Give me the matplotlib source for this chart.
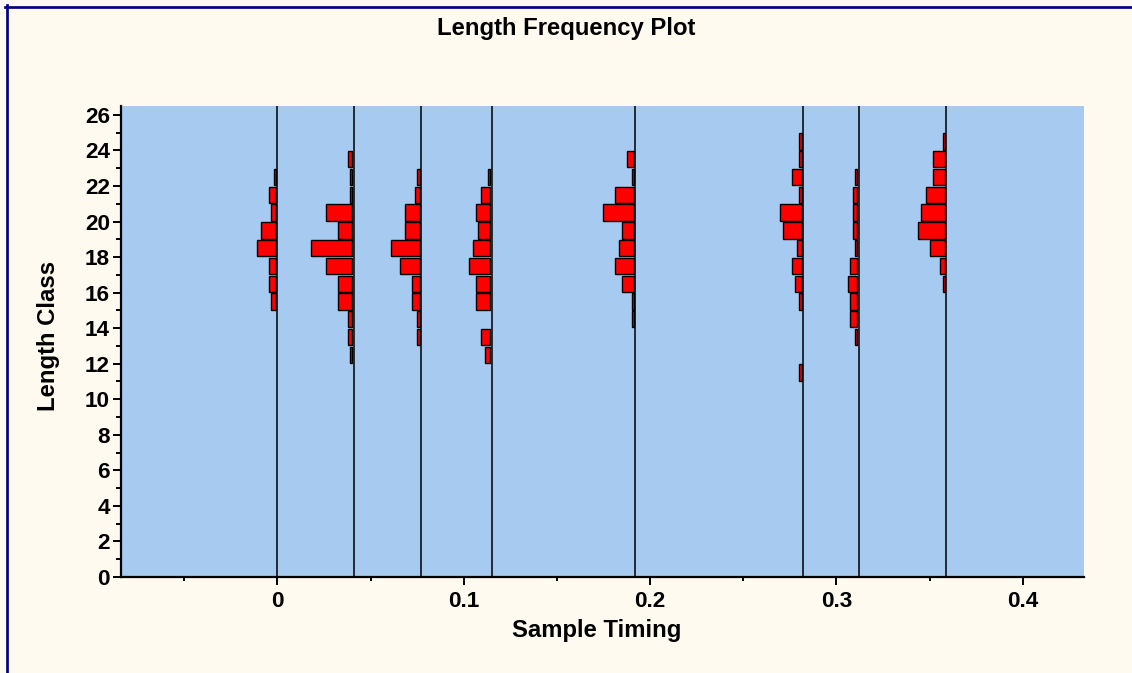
import matplotlib
matplotlib.use("Agg")
import matplotlib.pyplot as plt
from matplotlib.lines import Line2D
from matplotlib.ticker import MultipleLocator, FuncFormatter

# ---- data ----
sample_times = [0.0, 0.0410, 0.0771, 0.1150, 0.1921, 0.2822, 0.3120, 0.3590]
# length classes (bottom edge of each 1-unit bin) and counts per sample
classes_s1 = [15, 16, 17, 18, 19, 20, 21, 22]
counts_s1 = [2, 3, 3, 8, 6, 2, 3, 1]
classes_s2 = [12, 13, 14, 15, 16, 17, 18, 19, 20, 21, 22, 23]
counts_s2 = [1, 2, 2, 6, 6, 11, 17, 6, 11, 1, 1, 2]
classes_s3 = [13, 14, 15, 16, 17, 18, 19, 20, 21, 22]
counts_s3 = [1, 1, 3, 3, 8, 12, 6, 6, 2, 1]
classes_s4 = [12, 13, 15, 16, 17, 18, 19, 20, 21, 22]
counts_s4 = [2, 4, 6, 6, 9, 7, 5, 6, 4, 1]
classes_s5 = [14, 15, 16, 17, 18, 19, 20, 21, 22, 23]
counts_s5 = [1, 1, 5, 8, 6, 5, 13, 8, 1, 3]
classes_s6 = [11, 15, 16, 17, 18, 19, 20, 21, 22, 23, 24]
counts_s6 = [1, 1, 3, 4, 2, 8, 9, 1, 4, 1, 1]
classes_s7 = [13, 14, 15, 16, 17, 18, 19, 20, 21, 22]
counts_s7 = [1, 3, 3, 4, 3, 1, 2, 2, 2, 1]
classes_s8 = [16, 17, 18, 19, 20, 21, 22, 23, 24]
counts_s8 = [1, 2, 6, 11, 10, 8, 5, 5, 1]

all_classes = [classes_s1, classes_s2, classes_s3, classes_s4,
               classes_s5, classes_s6, classes_s7, classes_s8]
all_counts = [counts_s1, counts_s2, counts_s3, counts_s4,
              counts_s5, counts_s6, counts_s7, counts_s8]

x_ticks = [0, 0.1, 0.2, 0.3, 0.4]
y_ticks = list(range(0, 27, 2))

# ---- style ----
W, H = 1132, 673
bg = "#FEFAF0"
plot_bg = "#A6CAF0"
plt.rcParams['font.family'] = ['Liberation Sans', 'DejaVu Sans']
plt.rcParams['font.weight'] = 'bold'

fig = plt.figure(figsize=(W / 100, H / 100), dpi=100, facecolor=bg)
L, R, T, B = 121, 1084, 106, 577
ax = fig.add_axes([L / W, 1 - B / H, (R - L) / W, (B - T) / H])
ax.set_facecolor(plot_bg)

scale = 0.0013   # x-units per count
gap = 0.0007
for t, cls, cnt in zip(sample_times, all_classes, all_counts):
    ax.axvline(t, color="black", lw=1.1, zorder=2)
    ax.barh([c + 0.5 for c in cls], [-n * scale for n in cnt], left=t - gap,
            height=0.92, color="#FF0000", edgecolor="black", linewidth=1.0,
            zorder=3)

ax.set_xlim(-0.0839, 0.4329)
ax.set_ylim(0, 26.5)
ax.set_xticks(x_ticks)
ax.xaxis.set_major_formatter(FuncFormatter(lambda v, p: f"{v:g}"))
ax.set_yticks(y_ticks)
ax.xaxis.set_minor_locator(MultipleLocator(0.05))
ax.yaxis.set_minor_locator(MultipleLocator(1))

for s in ["top", "right"]:
    ax.spines[s].set_visible(False)
for s in ["left", "bottom"]:
    ax.spines[s].set_linewidth(1.6)
    ax.spines[s].set_zorder(5)

ax.tick_params(axis="both", which="major", direction="out", length=6,
               width=1.4, labelsize=16.2, color="black")
ax.tick_params(axis="x", which="major", pad=4)
ax.tick_params(axis="y", which="major", pad=2)
ax.tick_params(axis="x", which="minor", direction="out", length=3, width=1.4)
ax.tick_params(axis="y", which="minor", direction="out", length=3.6, width=1.4)
for lab in ax.get_xticklabels() + ax.get_yticklabels():
    lab.set_fontweight("bold")

fig.text(566 / W, 1 - 28 / H, "Length Frequency Plot", ha="center",
         va="center", fontsize=17.2, fontweight="bold")
fig.text(597 / W, 1 - 637 / H, "Sample Timing", ha="center",
         va="baseline", fontsize=17.2, fontweight="bold")
fig.text(49 / W, 1 - 336 / H, "Length Class", ha="center", va="center",
         rotation=90, fontsize=17.2, fontweight="bold")

# navy border lines (top and left)
fig.add_artist(Line2D([5.3 / W, 1.0], [1 - 6.7 / H, 1 - 6.7 / H],
                      transform=fig.transFigure, color="#000080", lw=1.95))
fig.add_artist(Line2D([6.7 / W, 6.7 / W], [0.0, 1 - 5.3 / H],
                      transform=fig.transFigure, color="#000080", lw=1.95))

fig.savefig("out.png", dpi=100, facecolor=bg)
